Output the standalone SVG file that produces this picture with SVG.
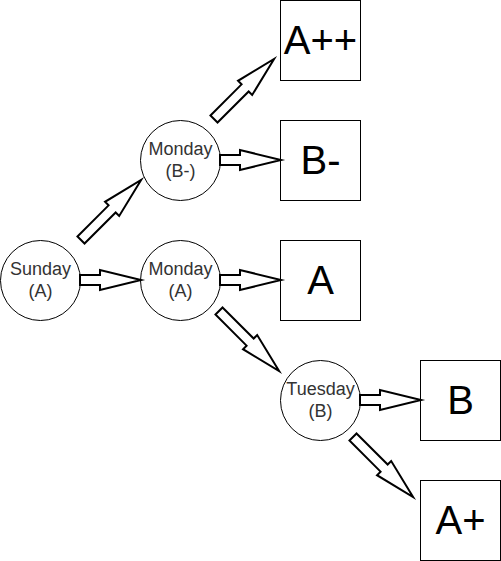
<svg xmlns="http://www.w3.org/2000/svg" xmlns:xlink="http://www.w3.org/1999/xlink" width="501" height="561" viewBox="0 0 501 561">
<defs>
<style>
.circ{fill:#fff;stroke:#000;stroke-width:1}
.box{fill:#fff;stroke:#000;stroke-width:1}
.ct{font-family:"Liberation Sans",Arial,sans-serif;font-size:18px;fill:#333;text-anchor:middle}
.bt{font-family:"Liberation Sans",Arial,sans-serif;font-size:40px;fill:#000;text-anchor:middle}
.arr{fill:#fff;stroke:#000;stroke-width:2;stroke-linejoin:miter;stroke-miterlimit:10}
</style>
<path id="arrS" d="M0,-5 L20,-5 L20,-10 L61,0 L20,10 L20,5 L0,5 Z"/>
<path id="arrL" d="M0,-5 L44,-5 L44,-10 L85,0 L44,10 L44,5 L0,5 Z"/>
</defs>
<rect width="501" height="561" fill="#fff"/>
<g id="sunday"><circle class="circ" cx="40.5" cy="280.5" r="40"/><text class="ct" x="40.5" y="275">Sunday</text><text class="ct" x="40.5" y="297">(A)</text></g>
<g id="monday-b"><circle class="circ" cx="180.5" cy="160.5" r="40"/><text class="ct" x="180.5" y="155">Monday</text><text class="ct" x="180.5" y="177">(B-)</text></g>
<g id="monday-a"><circle class="circ" cx="180.5" cy="280.5" r="40"/><text class="ct" x="180.5" y="275">Monday</text><text class="ct" x="180.5" y="297">(A)</text></g>
<g id="tuesday"><circle class="circ" cx="320.5" cy="400.5" r="40"/><text class="ct" x="320.5" y="395">Tuesday</text><text class="ct" x="320.5" y="417">(B)</text></g>
<g id="grade-app"><rect class="box" x="280.5" y="0.5" width="80" height="80"/><text class="bt" x="320.5" y="54">A++</text></g>
<g id="grade-bm"><rect class="box" x="280.5" y="120.5" width="80" height="80"/><text class="bt" x="320.5" y="174">B-</text></g>
<g id="grade-a"><rect class="box" x="280.5" y="240.5" width="80" height="80"/><text class="bt" x="320.5" y="294">A</text></g>
<g id="grade-b"><rect class="box" x="420.5" y="360.5" width="80" height="80"/><text class="bt" x="460.5" y="414">B</text></g>
<g id="grade-ap"><rect class="box" x="420.5" y="480.5" width="80" height="80"/><text class="bt" x="460.5" y="534">A+</text></g>
<g id="connectors">
<use xlink:href="#arrS" class="arr" transform="translate(80,280)"/>
<use xlink:href="#arrS" class="arr" transform="translate(220,280)"/>
<use xlink:href="#arrS" class="arr" transform="translate(220,160)"/>
<use xlink:href="#arrS" class="arr" transform="translate(360,400)"/>
<use xlink:href="#arrL" class="arr" transform="translate(81,240) rotate(-45)"/>
<use xlink:href="#arrL" class="arr" transform="translate(214,119) rotate(-45)"/>
<use xlink:href="#arrL" class="arr" transform="translate(219,311) rotate(45)"/>
<use xlink:href="#arrL" class="arr" transform="translate(353,437) rotate(45)"/>
</g>
</svg>
